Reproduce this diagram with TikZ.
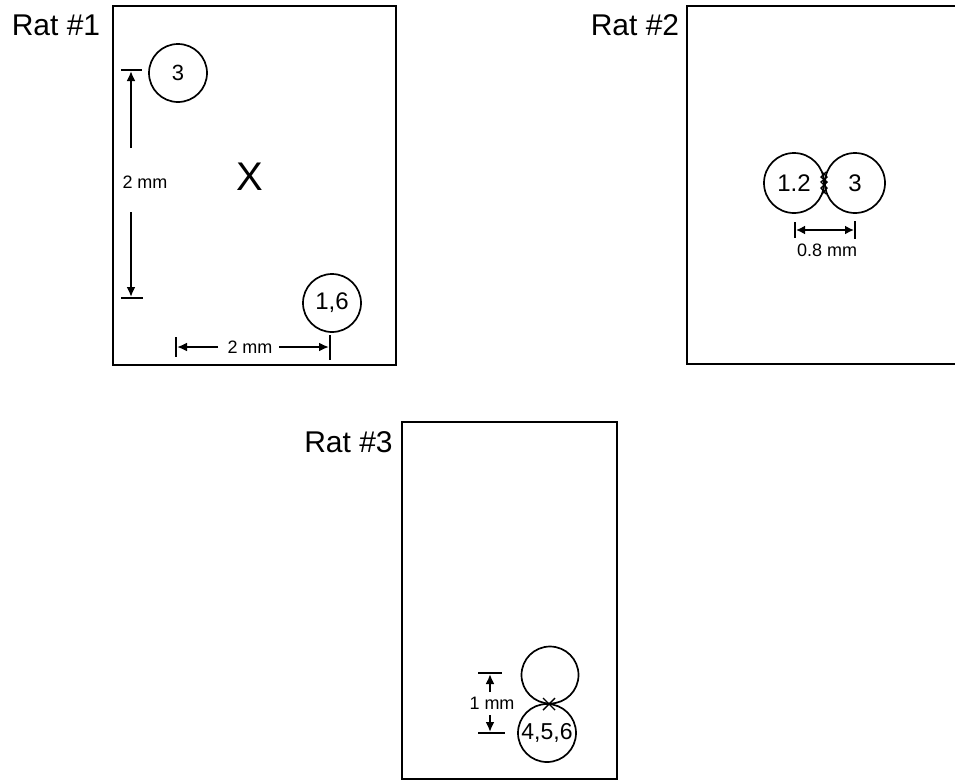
\documentclass[tikz,border=0pt]{standalone}
\usepackage{fontspec}
\setmainfont{Liberation Sans}
\usetikzlibrary{arrows.meta}
\begin{document}
\begin{tikzpicture}[x=1pt,y=-1pt,
  boxline/.style={line width=2.8pt},
  title/.style={font=\fontsize{30}{30}\selectfont, inner sep=0pt, anchor=base},
  spot/.style={circle, draw, line width=1.7pt, minimum size=58pt, inner sep=0pt, font=\fontsize{24}{24}\selectfont},
  dimtext/.style={font=\fontsize{18}{18}\selectfont, inner sep=0pt},
  dimarrow/.style={line width=2pt, -{Latex[length=10pt,width=9pt]}},
  dimboth/.style={line width=2pt, {Latex[length=9pt,width=9pt]}-{Latex[length=9pt,width=9pt]}},
  barline/.style={line width=2.2pt},
  tickmark/.style={line width=1.4pt}
]
\useasboundingbox (0,0) rectangle (955,780);
\fill[white] (0,0) rectangle (955,780);

% ---------- Rat #1 ----------
\node[title] (t1) at (56,35) {Rat \#1};
\draw[boxline] (113,6) rectangle (396,365);
\node[spot, font=\fontsize{22}{22}\selectfont] (c13) at (178,73) {3};
\node[spot] (c16) at (332,303) {1,6};
\node[font=\fontsize{40}{40}\selectfont, inner sep=0pt] (x1) at (250,177) {X};
% vertical dimension
\coordinate (v1tl) at (121,70); \coordinate (v1tr) at (142,70);
\coordinate (v1top) at (131,71);
\coordinate (v1a) at (131,148);
\node[dimtext] (v1txt) at (145,182) {2 mm};
\coordinate (v1b) at (131,212);
\coordinate (v1bot) at (131,297);
\coordinate (v1bl) at (121,298); \coordinate (v1br) at (143,298);
\draw[barline] (v1tl) -- (v1tr);
\draw[barline] (v1bl) -- (v1br);
\draw[dimarrow] (v1a) -- (v1top);
\draw[dimarrow] (v1b) -- (v1bot);
% horizontal dimension
\coordinate (h1lt) at (176,337); \coordinate (h1lb) at (176,357);
\coordinate (h1left) at (177,347);
\coordinate (h1a) at (218,347);
\node[dimtext] (h1txt) at (250,347) {2 mm};
\coordinate (h1b) at (279,347);
\coordinate (h1right) at (329,347);
\coordinate (h1rt) at (330,335); \coordinate (h1rb) at (330,360);
\draw[barline] (h1lt) -- (h1lb);
\draw[barline] (h1rt) -- (h1rb);
\draw[dimarrow] (h1a) -- (h1left);
\draw[dimarrow] (h1b) -- (h1right);

% ---------- Rat #2 ----------
\node[title] (t2) at (635,35) {Rat \#2};
\draw[boxline] (687,6) rectangle (975,364);
\node[spot, minimum size=60pt] (c212) at (794,183) {1.2};
\node[spot, minimum size=60pt] (c23) at (855,183) {3};
\draw[tickmark] (822,172) -- (827,177) -- (821,182) -- (827,188) -- (822,194);
\draw[tickmark] (826,172) -- (821,177) -- (827,182) -- (821,188) -- (826,194);
\coordinate (h2lt) at (795,222); \coordinate (h2lb) at (795,238);
\coordinate (h2rt) at (855,221); \coordinate (h2rb) at (855,239);
\coordinate (h2l) at (796,230); \coordinate (h2r) at (854,230);
\draw[barline] (h2lt) -- (h2lb);
\draw[barline] (h2rt) -- (h2rb);
\draw[dimboth] (h2l) -- (h2r);
\node[dimtext] (h2txt) at (827,250) {0.8 mm};

% ---------- Rat #3 ----------
\node[title] (t3) at (348.5,452) {Rat \#3};
\draw[boxline] (402,422) rectangle (617,779);
\node[spot, minimum size=57pt] (c3u) at (550,675) {};
\node[spot, minimum size=58pt, font=\fontsize{23}{23}\selectfont] (c3l) at (547,733) {4,5,6};
\coordinate (x3a) at (543,698); \coordinate (x3b) at (555,710);
\coordinate (x3c) at (543,710); \coordinate (x3d) at (555,698);
\draw[tickmark] (x3a) -- (x3b);
\draw[tickmark] (x3c) -- (x3d);
\coordinate (v3tl) at (478,673); \coordinate (v3tr) at (502,673);
\coordinate (v3top) at (490,674);
\coordinate (v3a) at (490,692);
\node[dimtext] (v3txt) at (492,703) {1 mm};
\coordinate (v3b) at (490,715);
\coordinate (v3bot) at (490,732);
\coordinate (v3bl) at (478,733); \coordinate (v3br) at (505,733);
\draw[barline] (v3tl) -- (v3tr);
\draw[barline] (v3bl) -- (v3br);
\draw[dimarrow] (v3a) -- (v3top);
\draw[dimarrow] (v3b) -- (v3bot);
\end{tikzpicture}
\end{document}
